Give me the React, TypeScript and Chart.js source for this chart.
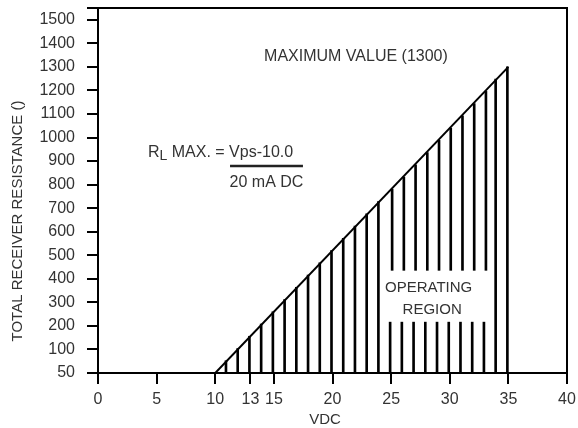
import { useEffect, useRef } from 'react';
import { Chart, registerables } from 'chart.js';

Chart.register(...registerables);

// ---- data ----
const xTicks = [0, 5, 10, 13, 15, 20, 25, 30, 35, 40];
const yTicks = [0, 100, 200, 300, 400, 500, 600, 700, 800, 900, 1000, 1100, 1200, 1300, 1400, 1500, 1550];
const yTickLabels = ['50', '100', '200', '300', '400', '500', '600', '700', '800', '900', '1000', '1100', '1200', '1300', '1400', '1500', ''];
const lineX = [10, 35];
const lineY = [0, 1300];
const hatchX = [11, 12, 13, 14, 15, 16, 17, 18, 19, 20, 21, 22, 23, 24, 25, 26, 27, 28, 29, 30, 31, 32, 33, 34, 35];
const hatchTop = [52, 104, 156, 208, 260, 312, 364, 416, 468, 520, 572, 624, 676, 728, 780, 832, 884, 936, 988, 1040, 1092, 1144, 1196, 1248, 1300];
const gapX = [25, 26, 27, 28, 29, 30, 31, 32, 33];
const gapLow = 216;
const gapHigh = 436;

const FONT = "'Liberation Sans', Arial, sans-serif";
const TEXT = '#333333';

const annotPlugin = {
  id: 'annot',
  afterDraw(chart: any) {
    const { ctx, chartArea } = chart;
    const xs = chart.scales.x;
    const ys = chart.scales.y;
    const px = (v: number) => xs.getPixelForValue(v);
    const py = (v: number) => ys.getPixelForValue(v);
    ctx.save();
    // frame top/right
    ctx.strokeStyle = '#000';
    ctx.lineWidth = 2;
    ctx.beginPath();
    ctx.moveTo(chartArea.left, chartArea.top);
    ctx.lineTo(chartArea.right, chartArea.top);
    ctx.lineTo(chartArea.right, chartArea.bottom);
    ctx.stroke();

    ctx.fillStyle = TEXT;
    ctx.textBaseline = 'middle';

    // MAXIMUM VALUE
    ctx.font = `16px ${FONT}`;
    ctx.textAlign = 'center';
    ctx.fillText('MAXIMUM VALUE (1300)', px(22.0), py(1342));

    // OPERATING REGION
    ctx.font = `15px ${FONT}`;
    ctx.fillText('OPERATING', px(28.2), py(363));
    ctx.fillText('REGION', px(28.5), py(267));

    // formula
    ctx.textAlign = 'left';
    ctx.font = `16px ${FONT}`;
    let fx = px(4.26);
    const fy = py(938);
    ctx.fillText('R', fx, fy);
    fx += ctx.measureText('R').width;
    ctx.font = `14px ${FONT}`;
    ctx.fillText('L', fx, fy + 4);
    fx += ctx.measureText('L').width;
    ctx.font = `16px ${FONT}`;
    ctx.fillText(' MAX. = Vps-10.0', fx, fy);

    ctx.strokeStyle = '#222';
    ctx.lineWidth = 2.5;
    ctx.beginPath();
    ctx.moveTo(px(11.26), py(879));
    ctx.lineTo(px(17.48), py(879));
    ctx.stroke();

    ctx.textAlign = 'center';
    ctx.fillText('20 mA DC', px(14.37), py(807));

    // axis titles
    ctx.font = `15px ${FONT}`;
    ctx.fillText('VDC', chartArea.left + 227, chartArea.bottom + 47);

    ctx.translate(18, chartArea.top + 213);
    ctx.rotate(-Math.PI / 2);
    ctx.fillText('TOTAL RECEIVER RESISTANCE ()', 0, 0);
    ctx.restore();
  },
};

export default function App() {
  const ref = useRef<HTMLCanvasElement | null>(null);

  useEffect(() => {
    if (!ref.current) return;
    const lower = hatchX.map((xv, i) => ({
      x: xv,
      y: [0, gapX.includes(xv) ? gapLow : hatchTop[i]],
    }));
    const upper = gapX.map((xv) => ({
      x: xv,
      y: [gapHigh, hatchTop[hatchX.indexOf(xv)]],
    }));
    const chart = new Chart(ref.current, {
      type: 'bar',
      data: {
        datasets: [
          {
            type: 'line',
            data: lineX.map((xv, i) => ({ x: xv, y: lineY[i] })),
            borderColor: '#000',
            borderWidth: 2,
            pointRadius: 0,
            fill: false,
          } as any,
          {
            type: 'bar',
            data: lower as any,
            backgroundColor: '#000',
            barThickness: 2,
            borderWidth: 0,
          },
          {
            type: 'bar',
            data: upper as any,
            backgroundColor: '#000',
            barThickness: 2,
            borderWidth: 0,
          },
        ],
      },
      options: {
        animation: false,
        responsive: false,
        devicePixelRatio: 1,
        layout: { padding: { top: 8, right: 11, left: 0, bottom: 0 } },
        plugins: { legend: { display: false }, tooltip: { enabled: false } },
        scales: {
          x: {
            type: 'linear',
            min: 0,
            max: 40,
            offset: false,
            afterBuildTicks: (s: any) => {
              s.ticks = xTicks.map((v) => ({ value: v }));
            },
            afterFit: (s: any) => {
              s.height = 55;
              s.paddingLeft = 0;
              s.paddingRight = 0;
            },
            grid: {
              offset: false,
              drawOnChartArea: false,
              drawTicks: true,
              tickLength: 11,
              color: '#000',
              lineWidth: 2,
            },
            border: { display: true, color: '#000', width: 2 },
            ticks: {
              autoSkip: false,
              maxRotation: 0,
              padding: 6,
              color: TEXT,
              font: { family: FONT, size: 16 },
            },
          },
          y: {
            type: 'linear',
            min: 0,
            max: 1550,
            afterBuildTicks: (s: any) => {
              s.ticks = yTicks.map((v) => ({ value: v }));
            },
            afterFit: (s: any) => {
              s.width = 98;
              s.paddingTop = 0;
              s.paddingBottom = 0;
            },
            grid: {
              drawOnChartArea: false,
              drawTicks: true,
              tickLength: 11,
              color: '#000',
              lineWidth: 2,
            },
            border: { display: true, color: '#000', width: 2 },
            ticks: {
              autoSkip: false,
              padding: 12,
              color: TEXT,
              font: { family: FONT, size: 16 },
              callback: (v: any) => {
                const i = yTicks.indexOf(Number(v));
                return i >= 0 ? yTickLabels[i] : '';
              },
            },
          },
        },
      },
      plugins: [annotPlugin],
    });
    return () => chart.destroy();
  }, []);

  return (
    <div style={{ position: 'absolute', left: 0, top: 0, width: 578, height: 428 }}>
      <canvas ref={ref} width={578} height={428} />
    </div>
  );
}
